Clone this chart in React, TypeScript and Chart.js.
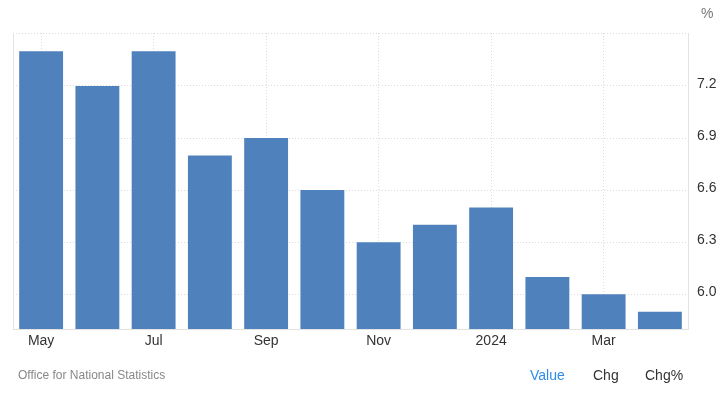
import React, { useEffect, useRef } from "react";
import { Chart, registerables } from "chart.js";

Chart.register(...registerables);

const categories = ["May", "Jun", "Jul", "Aug", "Sep", "Oct", "Nov", "Dec", "2024", "Feb", "Mar", "Apr"];
const values = [7.4, 7.2, 7.4, 6.8, 6.9, 6.6, 6.3, 6.4, 6.5, 6.1, 6.0, 5.9];
const yTicks = [6.0, 6.3, 6.6, 6.9, 7.2, 7.5];
const yMin = 5.8;
const yMax = 7.505;

const leftBorder = {
  id: "leftBorder",
  afterDraw(chart: any) {
    const { ctx, chartArea } = chart;
    ctx.save();
    ctx.strokeStyle = "#e3e3e3";
    ctx.lineWidth = 1;
    ctx.beginPath();
    ctx.moveTo(Math.round(chartArea.left) + 0.5, chartArea.top);
    ctx.lineTo(Math.round(chartArea.left) + 0.5, chartArea.bottom);
    ctx.stroke();
    ctx.restore();
  },
};

export default function App() {
  const ref = useRef<HTMLCanvasElement | null>(null);
  useEffect(() => {
    document.body.style.margin = "0";
    const chart = new Chart(ref.current as HTMLCanvasElement, {
      type: "bar",
      data: {
        labels: categories,
        datasets: [
          {
            data: values,
            backgroundColor: "#4f81bd",
            categoryPercentage: 1,
            barPercentage: 0.78,
          },
        ],
      },
      plugins: [leftBorder],
      options: {
        animation: false,
        responsive: false,
        layout: { padding: { left: 13, top: 33, right: 0, bottom: 0 } },
        plugins: { legend: { display: false }, tooltip: { enabled: false } },
        scales: {
          x: {
            offset: true,
            grid: {
              offset: false,
              drawTicks: false,
              color: (c: any) => (c.index % 2 === 0 ? "#dddddd" : "rgba(0,0,0,0)"),
            } as any,
            border: { display: true, color: "#e3e3e3", dash: [1, 2] } as any,
            ticks: {
              autoSkip: false,
              maxRotation: 0,
              padding: 4,
              color: "#333333",
              font: { family: "Liberation Sans, Arial", size: 14 },
              callback: (_v: any, i: number) => (i % 2 === 0 ? categories[i] : ""),
            },
            afterFit: (s: any) => {
              s.height = 68;
            },
          },
          y: {
            position: "right",
            min: yMin,
            max: yMax,
            afterBuildTicks: (s: any) => {
              s.ticks = yTicks.map((v) => ({ value: v }));
            },
            grid: { drawTicks: false, color: "#dddddd" },
            border: { display: true, color: "#e3e3e3", dash: [1, 2] } as any,
            ticks: {
              padding: 9,
              labelOffset: -2,
              color: "#333333",
              font: { family: "Liberation Sans, Arial", size: 14 },
              callback: (v: any) => (v > 7.4 ? "" : Number(v).toFixed(1)),
            },
            afterFit: (s: any) => {
              s.width = 35;
            },
          },
        },
      },
    });
    return () => chart.destroy();
  }, []);

  const font = "Liberation Sans, Arial, sans-serif";
  return (
    <div style={{ position: "relative", width: 723, height: 397, background: "#fff" }}>
      <canvas ref={ref} width={723} height={397} style={{ display: "block" }} />
      <div style={{ position: "absolute", left: 701, top: 5, fontFamily: font, fontSize: 14, color: "#777" }}>%</div>
      <div style={{ position: "absolute", left: 18, top: 368, fontFamily: font, fontSize: 12, color: "#888" }}>
        Office for National Statistics
      </div>
      <div style={{ position: "absolute", left: 530, top: 367, fontFamily: font, fontSize: 14, color: "#2d8ceb" }}>Value</div>
      <div style={{ position: "absolute", left: 593, top: 367, fontFamily: font, fontSize: 14, color: "#333" }}>Chg</div>
      <div style={{ position: "absolute", left: 645, top: 367, fontFamily: font, fontSize: 14, color: "#333" }}>Chg%</div>
    </div>
  );
}
